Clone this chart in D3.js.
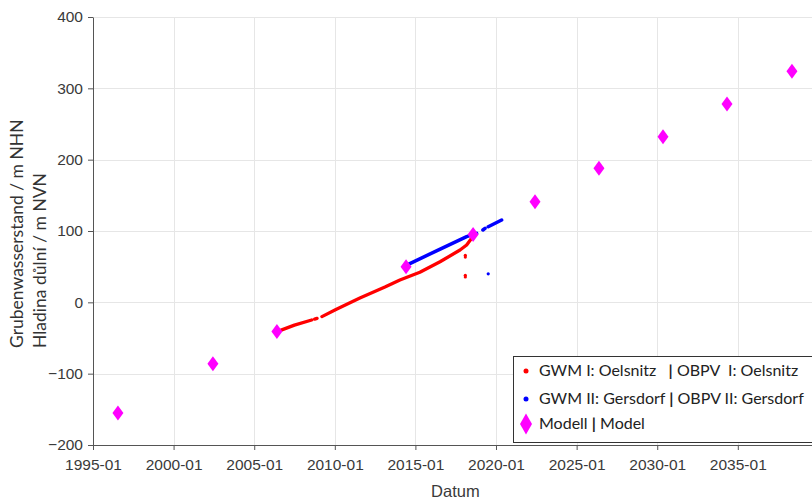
<!DOCTYPE html>
<html>
<head>
<meta charset="utf-8">
<script src="https://cdn.jsdelivr.net/npm/d3@7"></script>
<style>
  html, body { margin: 0; padding: 0; background: #fff; }
  svg { display: block; }
</style>
</head>
<body>
<svg id="chart" width="812" height="500"></svg>
<script>
// ---------- data ----------
const yTicks = [-200, -100, 0, 100, 200, 300, 400];
const xTickYears = [1995, 2000, 2005, 2010, 2015, 2020, 2025, 2030, 2035];

// GWM I: Oelsnitz (red) – null marks a gap in the record
const redDates  = ["2006-07-19","2007-07-01","2008-07-26", null,
                   "2008-10-01","2008-11-25", null,
                   "2009-03-15","2010-01-26","2011-07-23","2013-02-10","2014-01-15",
                   "2015-04-12","2016-07-12","2017-10-08","2018-03-07","2018-06-28"];
const redValues = [-40, -32, -24.8, null,
                   -23.5, -22.5, null,
                   -20, -10, 6, 21.4, 31.3,
                   42.1, 56.9, 73.3, 80.3, 89.7];
const redOutlierDates  = ["2018-02-05","2018-02-05","2018-02-05","2018-02-05"];
const redOutlierValues = [66, 63.5, 38, 35.5];

// GWM II: Gersdorf (blue)
const blueDates  = ["2014-07-23","2016-05-05","2018-03-07","2018-10-19", null,
                    "2019-03-10","2019-04-27", null,
                    "2019-07-09","2020-05-08"];
const blueValues = [53.3, 72.5, 92, 96.7, null,
                    101.4, 103.7, null,
                    106, 115.4];
const blueOutlierDates  = ["2019-07-09"];
const blueOutlierValues = [40];

// Modell | Model
const modelDates  = ["1996-07-19","2002-06-10","2006-05-30","2014-06-03","2018-07-31",
                     "2022-06-03","2026-05-22","2030-05-12","2034-05-01","2038-05-12"];
const modelValues = [-155, -86, -41, 50, 95, 141, 188, 232, 278, 324];

const legendRows = [
  {type: "dot", color: "#ff0000", parts: ["GWM I: Oelsnitz\u00a0\u00a0\u00a0", "|", " OBPV\u00a0\u00a0I: Oelsnitz"]},
  {type: "dot", color: "#0000ff", parts: ["GWM II: Gersdorf ", "|", " OBPV II: Gersdorf"]},
  {type: "diamond", color: "#ff00ff", parts: ["Modell ", "|", " Model"]}
];

// ---------- drawing ----------
const parse = d3.timeParse("%Y-%m-%d");
const svg = d3.select("#chart");
const mLeft = 93, mTop = 17, mBottom = 445;

const x = d3.scaleTime()
  .domain([parse("1995-01-01"), parse("2040-01-01")])
  .range([mLeft, mLeft + 9 * 80.6]);
const y = d3.scaleLinear().domain([-200, 400]).range([mBottom, mTop]);

const xTicks = xTickYears.map(yv => parse(yv + "-01-01"));

// grid
const grid = svg.append("g").attr("stroke", "#e6e6e6").attr("stroke-width", 1);
grid.selectAll("line.h").data(yTicks.filter(d => d !== -200)).join("line")
  .attr("x1", mLeft).attr("x2", 812)
  .attr("y1", d => Math.round(y(d)) + 0.5).attr("y2", d => Math.round(y(d)) + 0.5);
grid.selectAll("line.v").data(xTicks.slice(1)).join("line")
  .attr("x1", d => Math.round(x(d)) + 0.5).attr("x2", d => Math.round(x(d)) + 0.5)
  .attr("y1", mTop).attr("y2", mBottom);

// axes
const font = "'Liberation Sans', Arial, sans-serif";
const yAxis = svg.append("g").attr("transform", `translate(${mLeft},0)`)
  .call(d3.axisLeft(y).tickValues(yTicks).tickSize(5).tickPadding(5).tickSizeOuter(0));
const xAxis = svg.append("g").attr("transform", `translate(0,${mBottom})`)
  .call(d3.axisBottom(x).tickValues(xTicks).tickFormat(d3.timeFormat("%Y-%m"))
        .tickSize(5).tickPadding(9).tickSizeOuter(0));
[xAxis, yAxis].forEach(a => {
  a.select(".domain").attr("stroke", "#555");
  a.selectAll(".tick line").attr("stroke", "#555");
  a.selectAll("text").attr("font-family", font).attr("font-size", 15.5).attr("fill", "#3a3a3a");
});
xAxis.select(".domain").attr("d", `M${mLeft},0.5H812`);

// axis titles
svg.append("text").attr("x", mLeft + 4 * 80.6 + 40).attr("y", 497)
  .attr("text-anchor", "middle").attr("font-family", font).attr("font-size", 16.5)
  .attr("fill", "#3a3a3a").text("Datum");

const yt = svg.append("text")
  .attr("transform", "translate(0,348) rotate(-90)")
  .attr("font-family", "Lato, 'Open Sans', sans-serif").attr("font-size", 17.5).attr("fill", "#333");
yt.append("tspan").attr("x", 0).attr("y", 23).text("Grubenwasserstand / m NHN");
yt.append("tspan").attr("x", 0).attr("y", 46).text("Hladina důlní / m NVN");

// series
function series(dates, values) {
  return dates.map((d, i) => ({d: d ? parse(d) : null, v: values[i]}));
}
const line = d3.line().defined(p => p.v != null && p.d != null)
  .x(p => x(p.d)).y(p => y(p.v));

svg.append("path").datum(series(redDates, redValues))
  .attr("fill", "none").attr("stroke", "#ff0000").attr("stroke-width", 3.3)
  .attr("stroke-linecap", "round").attr("stroke-linejoin", "round").attr("d", line);
svg.append("path").datum(series(blueDates, blueValues))
  .attr("fill", "none").attr("stroke", "#0000ff").attr("stroke-width", 3.5)
  .attr("stroke-linecap", "round").attr("stroke-linejoin", "round").attr("d", line);

svg.append("g").selectAll("circle").data(series(redOutlierDates, redOutlierValues)).join("circle")
  .attr("cx", p => x(p.d)).attr("cy", p => y(p.v)).attr("r", 1.6).attr("fill", "#ff0000");
svg.append("g").selectAll("circle").data(series(blueOutlierDates, blueOutlierValues)).join("circle")
  .attr("cx", p => x(p.d)).attr("cy", p => y(p.v)).attr("r", 1.6).attr("fill", "#0000ff");

function diamond(w, h) { return `M0,${-h/2}L${w/2},0L0,${h/2}L${-w/2},0Z`; }
svg.append("g").selectAll("path").data(series(modelDates, modelValues)).join("path")
  .attr("transform", p => `translate(${x(p.d)},${y(p.v)})`)
  .attr("d", diamond(11, 15)).attr("fill", "#ff00ff");

// legend
const lg = svg.append("g");
lg.append("rect").attr("x", 513.5).attr("y", 356.5).attr("width", 320).attr("height", 86)
  .attr("fill", "#fff").attr("stroke", "#333").attr("stroke-width", 1);
const rowY = [376, 404, 429];
legendRows.forEach((r, i) => {
  const cy = rowY[i] - 5;
  if (r.type === "dot") {
    lg.append("circle").attr("cx", 526).attr("cy", cy).attr("r", 2.5).attr("fill", r.color);
  } else {
    lg.append("path").attr("transform", `translate(526,${cy})`).attr("d", diamond(12, 21)).attr("fill", r.color);
  }
  const t = lg.append("text").attr("x", 539).attr("y", rowY[i])
    .attr("font-family", "Lato, 'Open Sans', sans-serif").attr("font-size", 16).attr("fill", "#222");
  r.parts.forEach(p => {
    const ts = t.append("tspan").text(p);
    if (p === "|") ts.attr("font-weight", "bold");
  });
});
</script>
</body>
</html>
